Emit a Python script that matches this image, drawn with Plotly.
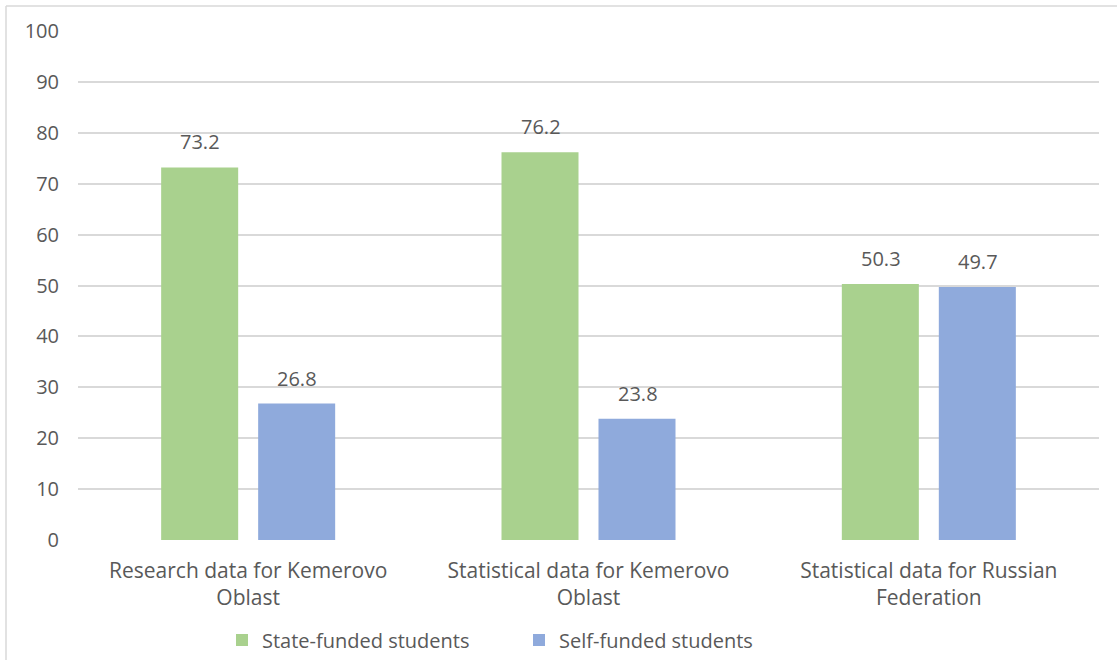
import plotly.graph_objects as go

categories = ["Research data for Kemerovo<br>Oblast",
              "Statistical data for Kemerovo<br>Oblast",
              "Statistical data for Russian<br>Federation"]
state_funded = [73.2, 76.2, 50.3]
self_funded = [26.8, 23.8, 49.7]
y_ticks = [0, 10, 20, 30, 40, 50, 60, 70, 80, 90, 100]

FONT = "Open Sans"
FS = 20
TXT = "#595959"
GREEN = "#A9D18E"
BLUE = "#8FAADC"

W, H = 1117, 660
L, R, T, B = 78, 18, 31, 120
pw, ph = W - L - R, H - T - B

fig = go.Figure()
fig.add_trace(go.Bar(x=categories, y=state_funded, name="State-funded students",
                     marker_color=GREEN, marker_line_width=0))
fig.add_trace(go.Bar(x=categories, y=self_funded, name="Self-funded students",
                     marker_color=BLUE, marker_line_width=0))

for series, shift in ((state_funded, -48), (self_funded, 49)):
    for c, v in zip(categories, series):
        fig.add_annotation(x=c, y=v, text=f"{v:.1f}", showarrow=False,
                           xshift=shift, yshift=10, yanchor="bottom",
                           font=dict(family=FONT, size=FS, color=TXT))

def px(xp):
    return (xp - L) / pw
def py(yp):
    return (H - B - yp) / ph

# outer chart border (top and left visible)
fig.add_shape(type="line", xref="paper", yref="paper",
              x0=px(6), x1=px(W + 5), y0=py(6), y1=py(6),
              line=dict(color="#d9d9d9", width=1.5))
fig.add_shape(type="line", xref="paper", yref="paper",
              x0=px(6), x1=px(6), y0=py(6), y1=py(H + 5),
              line=dict(color="#d9d9d9", width=1.5))

fig.update_layout(
    width=W, height=H,
    margin=dict(l=L, r=R, t=T, b=B, autoexpand=False),
    paper_bgcolor="white", plot_bgcolor="white",
    barmode="group", bargap=0.43, bargroupgap=0.206,
    font=dict(family=FONT, size=FS, color=TXT),
    legend=dict(orientation="h", x=px(222), xanchor="left", y=py(640), yanchor="middle",
                entrywidth=252, entrywidthmode="pixels",
                font=dict(family=FONT, size=FS, color=TXT), itemclick=False),
    xaxis=dict(showgrid=False, zeroline=False, showline=False, ticks="", automargin=False,
               tickfont=dict(family=FONT, size=21, color=TXT), ticklabelstandoff=16),
    yaxis=dict(range=[0, 100], tickvals=y_ticks, showgrid=True, gridcolor="#d9d9d9",
               gridwidth=1.5, zeroline=False, showline=False, ticks="", automargin=False,
               tickfont=dict(family=FONT, size=FS, color=TXT), ticklabelstandoff=18),
)

fig.write_html("out.html", config={"displayModeBar": False},
               post_script="document.body.style.margin='0';")
